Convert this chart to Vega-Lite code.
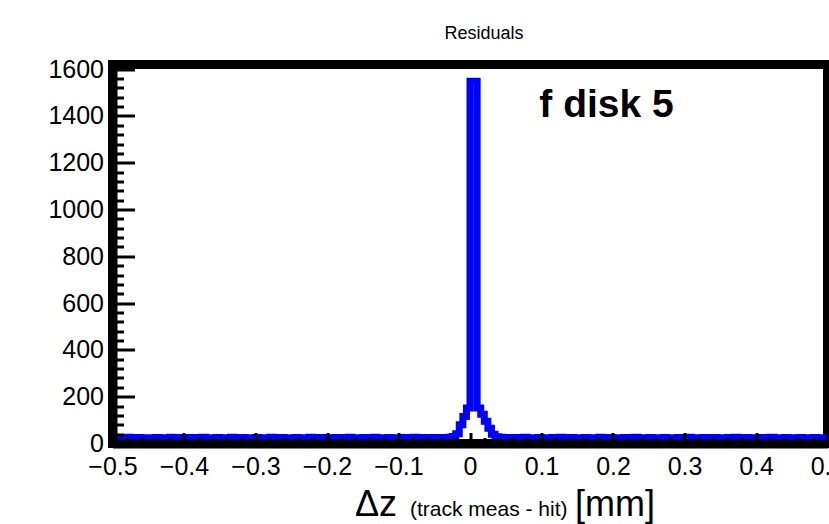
{
  "$schema": "https://vega.github.io/schema/vega-lite/v6.json",
  "width": 715,
  "height": 379,
  "autosize": "none",
  "padding": {"left": 112.5, "top": 64.5, "right": 2, "bottom": 81},
  "background": "white",
  "config": {
    "view": {"stroke": "black", "strokeWidth": 9},
    "font": "Liberation Sans"
  },
  "title": {"text": "Residuals", "fontSize": 18, "fontWeight": "normal", "font": "Liberation Sans", "anchor": "middle", "offset": 14, "dx": 14, "frame": "group", "color": "black"},
  "data": {"values": [
    {"x": -0.5, "n": 25}, {"x": -0.495, "n": 26}, {"x": -0.49, "n": 24}, {"x": -0.485, "n": 25}, {"x": -0.48, "n": 27}, {"x": -0.475, "n": 25}, {"x": -0.47, "n": 23}, {"x": -0.465, "n": 26}, {"x": -0.46, "n": 25}, {"x": -0.455, "n": 24},
    {"x": -0.45, "n": 25}, {"x": -0.445, "n": 24}, {"x": -0.44, "n": 26}, {"x": -0.435, "n": 25}, {"x": -0.43, "n": 23}, {"x": -0.425, "n": 25}, {"x": -0.42, "n": 27}, {"x": -0.415, "n": 24}, {"x": -0.41, "n": 25}, {"x": -0.405, "n": 26},
    {"x": -0.4, "n": 24}, {"x": -0.395, "n": 25}, {"x": -0.39, "n": 26}, {"x": -0.385, "n": 25}, {"x": -0.38, "n": 24}, {"x": -0.375, "n": 27}, {"x": -0.37, "n": 25}, {"x": -0.365, "n": 23}, {"x": -0.36, "n": 25}, {"x": -0.355, "n": 26},
    {"x": -0.35, "n": 25}, {"x": -0.345, "n": 24}, {"x": -0.34, "n": 25}, {"x": -0.335, "n": 27}, {"x": -0.33, "n": 25}, {"x": -0.325, "n": 24}, {"x": -0.32, "n": 26}, {"x": -0.315, "n": 25}, {"x": -0.31, "n": 23}, {"x": -0.305, "n": 25},
    {"x": -0.3, "n": 26}, {"x": -0.295, "n": 25}, {"x": -0.29, "n": 24}, {"x": -0.285, "n": 25}, {"x": -0.28, "n": 27}, {"x": -0.275, "n": 24}, {"x": -0.27, "n": 25}, {"x": -0.265, "n": 26}, {"x": -0.26, "n": 25}, {"x": -0.255, "n": 24},
    {"x": -0.25, "n": 25}, {"x": -0.245, "n": 26}, {"x": -0.24, "n": 25}, {"x": -0.235, "n": 23}, {"x": -0.23, "n": 25}, {"x": -0.225, "n": 27}, {"x": -0.22, "n": 24}, {"x": -0.215, "n": 25}, {"x": -0.21, "n": 26}, {"x": -0.205, "n": 25},
    {"x": -0.2, "n": 24}, {"x": -0.195, "n": 25}, {"x": -0.19, "n": 26}, {"x": -0.185, "n": 25}, {"x": -0.18, "n": 24}, {"x": -0.175, "n": 26}, {"x": -0.17, "n": 27}, {"x": -0.165, "n": 25}, {"x": -0.16, "n": 24}, {"x": -0.155, "n": 25},
    {"x": -0.15, "n": 26}, {"x": -0.145, "n": 24}, {"x": -0.14, "n": 25}, {"x": -0.135, "n": 27}, {"x": -0.13, "n": 25}, {"x": -0.125, "n": 24}, {"x": -0.12, "n": 25}, {"x": -0.115, "n": 26}, {"x": -0.11, "n": 25}, {"x": -0.105, "n": 24},
    {"x": -0.1, "n": 25}, {"x": -0.095, "n": 26}, {"x": -0.09, "n": 24}, {"x": -0.085, "n": 25}, {"x": -0.08, "n": 27}, {"x": -0.075, "n": 25}, {"x": -0.07, "n": 24}, {"x": -0.065, "n": 26}, {"x": -0.06, "n": 25}, {"x": -0.055, "n": 26},
    {"x": -0.05, "n": 25}, {"x": -0.045, "n": 26}, {"x": -0.04, "n": 25}, {"x": -0.035, "n": 26}, {"x": -0.03, "n": 27}, {"x": -0.025, "n": 30}, {"x": -0.02, "n": 42}, {"x": -0.015, "n": 80}, {"x": -0.01, "n": 115}, {"x": -0.005, "n": 152},
    {"x": 0, "n": 1548}, {"x": 0.005, "n": 1548}, {"x": 0.01, "n": 152}, {"x": 0.015, "n": 125}, {"x": 0.02, "n": 95}, {"x": 0.025, "n": 65}, {"x": 0.03, "n": 40}, {"x": 0.035, "n": 29}, {"x": 0.04, "n": 27}, {"x": 0.045, "n": 26},
    {"x": 0.05, "n": 25}, {"x": 0.055, "n": 24}, {"x": 0.06, "n": 26}, {"x": 0.065, "n": 25}, {"x": 0.07, "n": 24}, {"x": 0.075, "n": 27}, {"x": 0.08, "n": 25}, {"x": 0.085, "n": 23}, {"x": 0.09, "n": 25}, {"x": 0.095, "n": 26},
    {"x": 0.1, "n": 25}, {"x": 0.105, "n": 24}, {"x": 0.11, "n": 25}, {"x": 0.115, "n": 26}, {"x": 0.12, "n": 25}, {"x": 0.125, "n": 27}, {"x": 0.13, "n": 24}, {"x": 0.135, "n": 25}, {"x": 0.14, "n": 26}, {"x": 0.145, "n": 25},
    {"x": 0.15, "n": 24}, {"x": 0.155, "n": 25}, {"x": 0.16, "n": 26}, {"x": 0.165, "n": 25}, {"x": 0.17, "n": 23}, {"x": 0.175, "n": 25}, {"x": 0.18, "n": 27}, {"x": 0.185, "n": 24}, {"x": 0.19, "n": 25}, {"x": 0.195, "n": 26},
    {"x": 0.2, "n": 25}, {"x": 0.205, "n": 24}, {"x": 0.21, "n": 25}, {"x": 0.215, "n": 26}, {"x": 0.22, "n": 25}, {"x": 0.225, "n": 24}, {"x": 0.23, "n": 27}, {"x": 0.235, "n": 25}, {"x": 0.24, "n": 24}, {"x": 0.245, "n": 25},
    {"x": 0.25, "n": 26}, {"x": 0.255, "n": 25}, {"x": 0.26, "n": 24}, {"x": 0.265, "n": 25}, {"x": 0.27, "n": 26}, {"x": 0.275, "n": 25}, {"x": 0.28, "n": 23}, {"x": 0.285, "n": 25}, {"x": 0.29, "n": 26}, {"x": 0.295, "n": 24},
    {"x": 0.3, "n": 25}, {"x": 0.305, "n": 27}, {"x": 0.31, "n": 25}, {"x": 0.315, "n": 24}, {"x": 0.32, "n": 25}, {"x": 0.325, "n": 26}, {"x": 0.33, "n": 25}, {"x": 0.335, "n": 24}, {"x": 0.34, "n": 26}, {"x": 0.345, "n": 25},
    {"x": 0.35, "n": 24}, {"x": 0.355, "n": 25}, {"x": 0.36, "n": 26}, {"x": 0.365, "n": 25}, {"x": 0.37, "n": 27}, {"x": 0.375, "n": 24}, {"x": 0.38, "n": 25}, {"x": 0.385, "n": 26}, {"x": 0.39, "n": 25}, {"x": 0.395, "n": 24},
    {"x": 0.4, "n": 25}, {"x": 0.405, "n": 26}, {"x": 0.41, "n": 24}, {"x": 0.415, "n": 25}, {"x": 0.42, "n": 27}, {"x": 0.425, "n": 25}, {"x": 0.43, "n": 24}, {"x": 0.435, "n": 25}, {"x": 0.44, "n": 26}, {"x": 0.445, "n": 25},
    {"x": 0.45, "n": 24}, {"x": 0.455, "n": 25}, {"x": 0.46, "n": 26}, {"x": 0.465, "n": 25}, {"x": 0.47, "n": 24}, {"x": 0.475, "n": 25}, {"x": 0.48, "n": 26}, {"x": 0.485, "n": 25}, {"x": 0.49, "n": 24}, {"x": 0.495, "n": 25},
    {"x": 0.5, "n": 25}
  ]},
  "layer": [
    {
      "mark": {"type": "line", "interpolate": "step-after", "color": "#0000ff", "strokeWidth": 7, "strokeJoin": "miter", "strokeCap": "butt"},
      "encoding": {
        "x": {"field": "x", "type": "quantitative", "scale": {"domain": [-0.5, 0.5], "nice": false, "zero": false},
          "axis": {"orient": "bottom", "values": [-0.5, -0.4, -0.3, -0.2, -0.1, 0, 0.1, 0.2, 0.3, 0.4, 0.5], "labelExpr": "datum.value == 0 ? '0' : format(datum.value, '.1f')", "ticks": false, "labelPadding": 11, "labelFontSize": 25, "labelFont": "Liberation Sans", "labelColor": "black", "labelFlush": false, "labelOverlap": false, "domainColor": "black", "domainWidth": 9, "grid": false, "zindex": 1,
            "title": "Δz", "titleFontSize": 36, "titleFontWeight": "normal", "titleFont": "Liberation Sans", "titleColor": "black", "titleAlign": "left", "titleAnchor": "start", "titleBaseline": "alphabetic", "titleX": 242, "titleY": 72}},
        "y": {"field": "n", "type": "quantitative", "scale": {"domain": [0, 1620], "nice": false, "zero": true},
          "axis": {"orient": "left", "values": [0, 200, 400, 600, 800, 1000, 1200, 1400, 1600], "format": "d", "ticks": false, "labelPadding": 9, "labelFontSize": 25, "labelFont": "Liberation Sans", "labelColor": "black", "labelFlush": false, "labelOverlap": false, "domainColor": "black", "domainWidth": 9, "grid": false, "zindex": 1, "title": null}}
      }
    },
    {
      "data": {"values": [{"label": "f disk 5"}]},
      "mark": {"type": "text", "font": "Liberation Sans", "fontWeight": "bold", "fontSize": 39, "align": "left", "baseline": "alphabetic", "color": "black"},
      "encoding": {
        "text": {"field": "label"},
        "x": {"datum": 0.097, "type": "quantitative",
          "axis": {"orient": "bottom", "values": [-0.5, -0.4, -0.3, -0.2, -0.1, 0, 0.1, 0.2, 0.3, 0.4, 0.5], "labels": false, "domain": false, "grid": false, "ticks": true, "tickSize": -11, "tickWidth": 3, "tickColor": "black", "zindex": 1,
            "title": "(track meas - hit)", "titleFontSize": 21, "titleFontWeight": "normal", "titleFont": "Liberation Sans", "titleColor": "black", "titleAlign": "left", "titleAnchor": "start", "titleBaseline": "alphabetic", "titleX": 297, "titleY": 72}},
        "y": {"datum": 1395, "type": "quantitative",
          "axis": {"orient": "left", "values": [0, 200, 400, 600, 800, 1000, 1200, 1400, 1600], "labels": false, "domain": false, "grid": false, "ticks": true, "tickSize": -22, "tickWidth": 3, "tickColor": "black", "zindex": 1, "title": null}}
      }
    },
    {
      "mark": {"type": "point", "opacity": 0},
      "encoding": {
        "x": {"field": "x", "type": "quantitative",
          "axis": {"orient": "bottom", "values": [-0.48, -0.46, -0.44, -0.42, -0.38, -0.36, -0.34, -0.32, -0.28, -0.26, -0.24, -0.22, -0.18, -0.16, -0.14, -0.12, -0.08, -0.06, -0.04, -0.02, 0.02, 0.04, 0.06, 0.08, 0.12, 0.14, 0.16, 0.18, 0.22, 0.24, 0.26, 0.28, 0.32, 0.34, 0.36, 0.38, 0.42, 0.44, 0.46, 0.48], "labels": false, "domain": false, "grid": false, "ticks": true, "tickSize": -6, "tickWidth": 3, "tickColor": "black", "zindex": 1,
            "title": "[mm]", "titleFontSize": 36, "titleFontWeight": "normal", "titleFont": "Liberation Sans", "titleColor": "black", "titleAlign": "left", "titleAnchor": "start", "titleBaseline": "alphabetic", "titleX": 462, "titleY": 72}},
        "y": {"field": "n", "type": "quantitative",
          "axis": {"orient": "left", "values": [40, 80, 120, 160, 240, 280, 320, 360, 440, 480, 520, 560, 640, 680, 720, 760, 840, 880, 920, 960, 1040, 1080, 1120, 1160, 1240, 1280, 1320, 1360, 1440, 1480, 1520, 1560], "labels": false, "domain": false, "grid": false, "ticks": true, "tickSize": -11, "tickWidth": 3, "tickColor": "black", "zindex": 1, "title": null}}
      }
    }
  ],
  "resolve": {"axis": {"x": "independent", "y": "independent"}}
}
